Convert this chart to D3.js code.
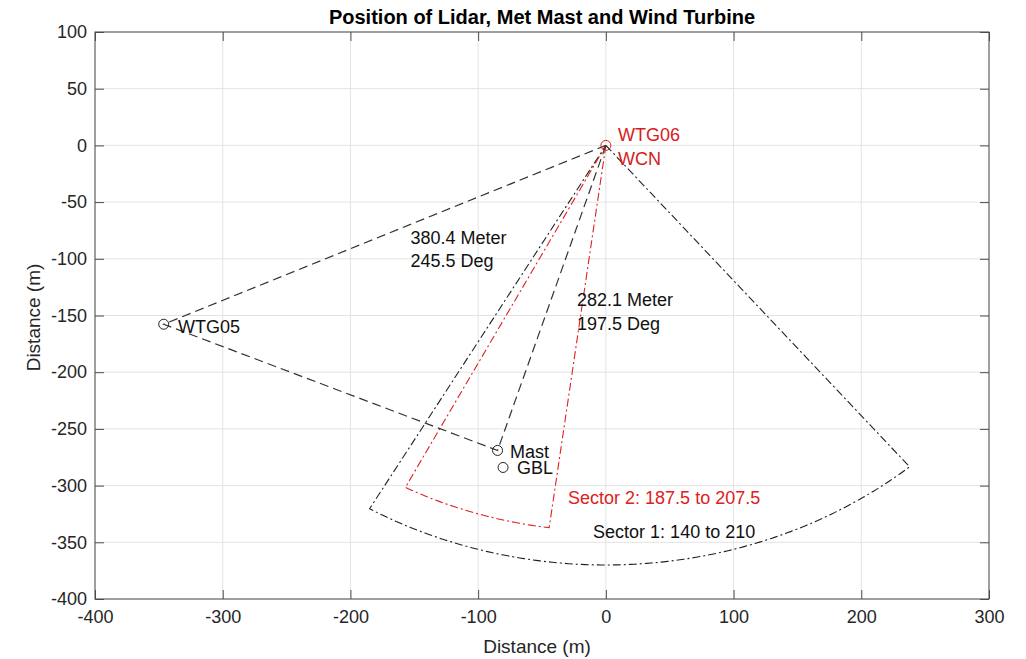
<!DOCTYPE html>
<html>
<head>
<meta charset="utf-8">
<script src="https://cdn.jsdelivr.net/npm/d3@7"></script>
<style>
  body { margin: 0; background: #fff; }
  text { font-family: "Liberation Sans", Arial, sans-serif; }
</style>
</head>
<body>
<div id="chart"></div>
<script>
// turbines / instruments, positions in metres relative to WTG06
const pointNames = ['WTG06', 'WTG05', 'Mast', 'GBL'];
const pointX = [0, -346.2, -84.8, -80.5];
const pointY = [0, -157.7, -269.0, -284.0];
const pointColor = ['#d62020', '#222', '#222', '#222'];

// dashed triangle WTG06 -> WTG05 -> Mast -> WTG06
const triangleOrder = ['WTG06', 'WTG05', 'Mast', 'WTG06'];

// lidar sectors (bearing degrees, radius m)
const sectorNames = ['Sector 1', 'Sector 2'];
const sectorFrom = [140, 187.5];
const sectorTo = [210, 207.5];
const sectorRadius = [370, 340];
const sectorColor = ['#222', '#e02020'];

// annotations in data coordinates
const labelText = ['WTG06', 'WCN', '380.4 Meter', '245.5 Deg', '282.1 Meter', '197.5 Deg',
  'WTG05', 'Mast', 'GBL', 'Sector 2: 187.5 to 207.5', 'Sector 1: 140 to 210'];
const labelX = [9.5, 9.5, -153, -153, -22.6, -22.6, -335, -75, -69.6, -29.6, -10];
const labelY = [9, -11.5, -81, -102, -135.8, -157, -159.6, -270, -284, -311, -341];
const labelColor = ['#d62020', '#d62020', '#111', '#111', '#111', '#111',
  '#111', '#111', '#111', '#e02020', '#111'];

const xTicks = [-400, -300, -200, -100, 0, 100, 200, 300];
const yTicks = [100, 50, 0, -50, -100, -150, -200, -250, -300, -350, -400];

const W = 1026, H = 659;
const margin = { top: 32, right: 37, bottom: 60, left: 95 };
const width = W - margin.left - margin.right;
const height = H - margin.top - margin.bottom;

const x = d3.scaleLinear().domain([-400, 300]).range([0, width]);
const y = d3.scaleLinear().domain([-400, 100]).range([height, 0]);

const svg = d3.select('#chart').append('svg').attr('width', W).attr('height', H);
const g = svg.append('g').attr('transform', 'translate(' + margin.left + ',' + margin.top + ')');

// grid
g.append('g').selectAll('line').data(xTicks).join('line')
  .attr('x1', d => x(d)).attr('x2', d => x(d)).attr('y1', 0).attr('y2', height)
  .attr('stroke', '#e3e3e3').attr('stroke-width', 1);
g.append('g').selectAll('line').data(yTicks).join('line')
  .attr('y1', d => y(d)).attr('y2', d => y(d)).attr('x1', 0).attr('x2', width)
  .attr('stroke', '#e3e3e3').attr('stroke-width', 1);

// axes, MATLAB style: inward ticks on all four sides
const plain = d => String(d);
function styleAxis(sel) {
  sel.select('.domain').remove();
  sel.selectAll('.tick line').attr('stroke', '#4d4d4d');
  sel.selectAll('.tick text').attr('fill', '#262626').style('font-size', '18px');
}
g.append('g').attr('transform', 'translate(0,' + height + ')')
  .call(d3.axisBottom(x).tickValues(xTicks).tickFormat(plain).tickSizeInner(-9).tickSizeOuter(0).tickPadding(11))
  .call(styleAxis);
g.append('g')
  .call(d3.axisLeft(y).tickValues(yTicks).tickFormat(plain).tickSizeInner(-9).tickSizeOuter(0).tickPadding(8))
  .call(styleAxis);
g.append('g')
  .call(d3.axisTop(x).tickValues(xTicks).tickSizeInner(-9).tickSizeOuter(0).tickFormat(''))
  .call(styleAxis);
g.append('g').attr('transform', 'translate(' + width + ',0)')
  .call(d3.axisRight(y).tickValues(yTicks).tickSizeInner(-9).tickSizeOuter(0).tickFormat(''))
  .call(styleAxis);
g.append('rect').attr('width', width).attr('height', height)
  .attr('fill', 'none').attr('stroke', '#4d4d4d').attr('stroke-width', 1);

const line = d3.line().x(d => x(d[0])).y(d => y(d[1]));

// sectors
sectorNames.forEach((name, i) => {
  const pts = [[0, 0]];
  for (let a = sectorFrom[i]; a <= sectorTo[i] + 1e-9; a += 0.5) {
    const r = a * Math.PI / 180;
    pts.push([sectorRadius[i] * Math.sin(r), sectorRadius[i] * Math.cos(r)]);
  }
  pts.push([0, 0]);
  g.append('path').datum(pts).attr('d', line)
    .attr('fill', 'none').attr('stroke', sectorColor[i]).attr('stroke-width', 1.1)
    .attr('stroke-dasharray', '8,3,2,3');
});

// triangle between turbines and mast
const tri = triangleOrder.map(n => {
  const k = pointNames.indexOf(n);
  return [pointX[k], pointY[k]];
});
g.append('path').datum(tri).attr('d', line)
  .attr('fill', 'none').attr('stroke', '#333').attr('stroke-width', 1.2)
  .attr('stroke-dasharray', '9,5');

// markers
g.append('g').selectAll('circle').data(pointNames).join('circle')
  .attr('cx', (d, i) => x(pointX[i])).attr('cy', (d, i) => y(pointY[i]))
  .attr('r', 5).attr('fill', 'none')
  .attr('stroke', (d, i) => pointColor[i]).attr('stroke-width', 1);

// annotations
g.append('g').selectAll('text').data(labelText).join('text')
  .attr('x', (d, i) => x(labelX[i])).attr('y', (d, i) => y(labelY[i]))
  .attr('dy', '0.35em').attr('fill', (d, i) => labelColor[i])
  .style('font-size', '18px').text(d => d);

// title and axis labels
svg.append('text').attr('x', margin.left + width / 2).attr('y', 24)
  .attr('text-anchor', 'middle').style('font-size', '20px').style('font-weight', 'bold')
  .attr('fill', '#000').text('Position of Lidar, Met Mast and Wind Turbine');
svg.append('text').attr('x', margin.left + width / 2 - 5).attr('y', 653)
  .attr('text-anchor', 'middle').style('font-size', '19px').attr('fill', '#262626')
  .text('Distance (m)');
svg.append('text').attr('transform', 'translate(40,' + (margin.top + height / 2 + 2) + ') rotate(-90)')
  .attr('text-anchor', 'middle').style('font-size', '19px').attr('fill', '#262626')
  .text('Distance (m)');
</script>
</body>
</html>
